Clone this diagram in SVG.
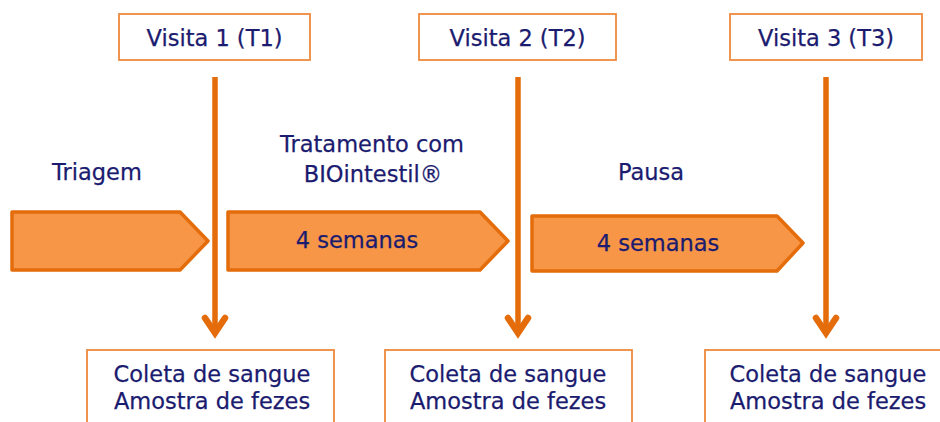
<svg xmlns="http://www.w3.org/2000/svg" width="940" height="422" viewBox="0 0 940 422">
<style>
.t{font-family:"DejaVu Sans",Verdana,sans-serif;font-size:22.5px;fill:#1b1b6f;text-anchor:middle;stroke:#1b1b6f;stroke-width:0.25}
.vbox{fill:#fff;stroke:#ee8a3e;stroke-width:1.8}
.bbox{fill:#fff;stroke:#ee8a3e;stroke-width:1.8}
.pent{fill:#f79646;stroke:#e46c0a;stroke-width:3.5;stroke-linejoin:round}
.ln{fill:none;stroke:#e46c0a;stroke-width:5.5;stroke-linecap:butt}
.hd{fill:none;stroke:#e46c0a;stroke-width:6.5;stroke-linejoin:miter;stroke-linecap:round}
</style>
<rect width="940" height="422" fill="#fff"/>
<g id="phase-labels">
<text class="t" x="97" y="180">Triagem</text>
<text class="t" x="372" y="152">Tratamento com</text>
<text class="t" x="373" y="182">BIOintestil®</text>
<text class="t" x="651" y="180">Pausa</text>
</g>
<g id="triagem"><path class="pent" d="M12,212 H180 L208,241 L180,270 H12 Z"/></g>
<g id="tratamento"><path class="pent" d="M228,212 H480 L508,241 L480,270 H228 Z"/><text class="t" x="357" y="248">4 semanas</text></g>
<g id="pausa"><path class="pent" d="M532,216 H777 L803,243 L777,271 H532 Z"/><text class="t" x="658" y="251">4 semanas</text></g>
<g id="visita1"><rect class="vbox" x="119" y="14" width="191" height="46"/><text class="t" x="214.5" y="46">Visita 1 (T1)</text></g>
<g id="visita2"><rect class="vbox" x="419" y="14" width="197" height="46"/><text class="t" x="517.5" y="46">Visita 2 (T2)</text></g>
<g id="visita3"><rect class="vbox" x="730" y="14" width="192" height="46"/><text class="t" x="826" y="46">Visita 3 (T3)</text></g>
<g id="coleta1"><rect class="bbox" x="87" y="350" width="247" height="80"/><text class="t" x="212" y="382">Coleta de sangue</text><text class="t" x="212" y="409">Amostra de fezes</text></g>
<g id="coleta2"><rect class="bbox" x="385" y="350" width="247" height="80"/><text class="t" x="508" y="382">Coleta de sangue</text><text class="t" x="508" y="409">Amostra de fezes</text></g>
<g id="coleta3"><rect class="bbox" x="705" y="350" width="245" height="80"/><text class="t" x="828" y="382">Coleta de sangue</text><text class="t" x="828" y="409">Amostra de fezes</text></g>
<g id="connectors">
<path class="ln" d="M215,77 V333"/><path class="hd" d="M205,318 L215,333 L225,318"/>
<path class="ln" d="M518,77 V333"/><path class="hd" d="M508,318 L518,333 L528,318"/>
<path class="ln" d="M826,77 V333"/><path class="hd" d="M816,318 L826,333 L836,318"/>
</g>
</svg>
